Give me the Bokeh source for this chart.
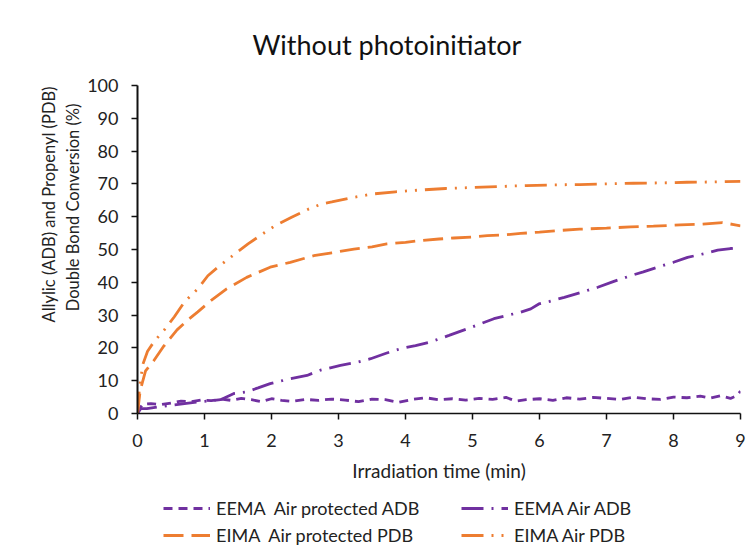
from bokeh.plotting import figure
from bokeh.models import Range1d, Legend, LegendItem, Title
from bokeh.layouts import column
from bokeh.embed import file_html
from bokeh.resources import INLINE

# ---- data ----
title_text = "Without photoinitiator"
x_label = "Irradiation time (min)"
y_label_1 = "Allylic (ADB) and Propenyl (PDB)"
y_label_2 = "Double Bond Conversion (%)"
x_ticks = [0, 1, 2, 3, 4, 5, 6, 7, 8, 9]
y_ticks = [0, 10, 20, 30, 40, 50, 60, 70, 80, 90, 100]

eema_prot_t = [0, 0.03, 0.08, 0.2, 0.35, 0.5, 0.65, 0.8, 0.95, 1.1, 1.25, 1.4, 1.55, 1.7, 1.85,
               2.0, 2.15, 2.3, 2.5, 2.7, 2.9, 3.1, 3.3, 3.5, 3.7, 3.9, 4.1, 4.3, 4.5, 4.7, 4.9,
               5.1, 5.3, 5.5, 5.65, 5.8, 6.0, 6.2, 6.4, 6.6, 6.8, 7.0, 7.2, 7.4, 7.6, 7.8, 8.0,
               8.2, 8.4, 8.55, 8.7, 8.85, 8.95, 9.0]
eema_prot_y = [0, 1.5, 2.8, 3.0, 2.7, 3.2, 3.8, 3.6, 4.1, 3.9, 4.4, 4.0, 4.6, 4.2, 3.6,
               4.5, 4.0, 3.7, 4.3, 4.0, 4.4, 4.1, 3.6, 4.4, 4.2, 3.4, 4.3, 4.8, 4.2, 4.5, 4.1,
               4.6, 4.3, 4.9, 3.8, 4.2, 4.5, 4.0, 4.8, 4.4, 4.9, 4.6, 4.3, 5.0, 4.5, 4.3, 5.0,
               4.8, 5.3, 4.7, 5.4, 4.6, 5.5, 6.8]

eema_air_t = [0, 0.05, 0.14, 0.3, 0.49, 0.7, 0.89, 1.05, 1.24, 1.44, 1.63, 1.8, 1.98, 2.28,
              2.53, 2.73, 3.03, 3.25, 3.48, 3.7, 3.93, 4.15, 4.37, 4.65, 4.92, 5.1, 5.32, 5.5,
              5.72, 5.87, 5.99, 6.15, 6.37, 6.6, 6.87, 7.1, 7.36, 7.55, 7.76, 8.0, 8.21, 8.45,
              8.66, 8.85, 9.0]
eema_air_y = [0, 1.5, 1.5, 2.0, 2.5, 3.0, 3.5, 3.8, 4.2, 6.1, 6.6, 7.8, 9.1, 10.6,
              11.6, 13.2, 14.7, 15.5, 16.7, 18.3, 19.8, 20.7, 21.8, 23.8, 25.8, 27.2, 28.9, 29.8,
              30.9, 31.9, 33.4, 34.2, 35.4, 36.8, 38.5, 40.2, 42.0, 43.2, 44.6, 46.1, 47.6, 48.7,
              49.8, 50.3, 50.6]

eima_prot_t = [0, 0.04, 0.12, 0.24, 0.39, 0.59, 0.75, 0.9, 1.1, 1.33, 1.63, 1.98, 2.28, 2.63,
               2.9, 3.23, 3.5, 3.72, 4.0, 4.22, 4.5, 4.72, 5.0, 5.22, 5.5, 5.72, 6.0, 6.3, 6.6,
               7.0, 7.36, 7.7, 8.1, 8.4, 8.73, 8.9, 9.0]
eima_prot_y = [0, 7.0, 13.0, 16.0, 20.5, 25.5, 28.5, 31.0, 34.5, 38.0, 41.5, 44.6, 46.1, 48.1,
               49.0, 50.1, 50.8, 51.7, 52.2, 52.7, 53.2, 53.5, 53.8, 54.2, 54.5, 54.9, 55.3, 55.8, 56.2,
               56.5, 56.9, 57.1, 57.5, 57.7, 58.2, 57.6, 57.2]

eima_air_t = [0, 0.03, 0.08, 0.15, 0.25, 0.4, 0.55, 0.7, 0.9, 1.05, 1.2, 1.45, 1.65, 1.9, 2.05,
              2.3, 2.55, 2.75, 2.9, 3.2, 3.5, 3.85, 4.2, 4.6, 5.0, 5.4, 5.8, 6.2, 6.6, 7.0, 7.4,
              7.8, 8.2, 8.6, 9.0]
eima_air_y = [0, 8.0, 15.0, 19.0, 22.0, 25.5, 29.5, 34.0, 38.0, 42.0, 44.6, 48.6, 51.7, 55.2, 57.2,
              59.8, 62.3, 63.9, 64.5, 65.8, 66.9, 67.6, 68.1, 68.6, 68.9, 69.2, 69.5, 69.7, 69.8, 70.0, 70.2,
              70.3, 70.5, 70.6, 70.8]

series_names = ["EEMA  Air protected ADB", "EEMA Air ADB", "EIMA  Air protected PDB", "EIMA Air PDB"]

PURPLE = "#7030A0"
ORANGE = "#ED7D31"
FONT = "Lato"
TXT = "#222222"
LW = 2.8
styles = [dict(line_color=PURPLE, line_width=LW, line_dash="9 6"),
          dict(line_color=PURPLE, line_width=LW, line_dash="22 8 2 8"),
          dict(line_color=ORANGE, line_width=LW, line_dash="20 8"),
          dict(line_color=ORANGE, line_width=LW, line_dash="22 8 2 8 2 8")]
series = [(eema_prot_t, eema_prot_y), (eema_air_t, eema_air_y),
          (eima_prot_t, eima_prot_y), (eima_air_t, eima_air_y)]

# ---------- main chart ----------
p = figure(width=753, height=495, output_backend="svg", toolbar_location=None,
           x_range=Range1d(0, 9), y_range=Range1d(0, 100),
           min_border_left=137, min_border_right=13, min_border_top=84, min_border_bottom=82)
p.outline_line_color = None
p.grid.visible = False
p.background_fill_color = "white"
p.border_fill_color = "white"

p.title.text = title_text
p.title.text_font = FONT
p.title.text_font_size = "27px"
p.title.text_font_style = "normal"
p.title.text_color = "#111111"
p.title.align = "left"
p.title.offset = 115
p.title.standoff = 50

for ax in (p.xaxis[0], p.yaxis[0]):
    ax.axis_line_color = "#111111"
    ax.axis_line_width = 1.5
    ax.major_tick_line_color = "#111111"
    ax.major_tick_line_width = 1.5
    ax.major_tick_in = 0
    ax.major_tick_out = 6
    ax.minor_tick_line_color = None
    ax.major_label_text_font = FONT
    ax.major_label_text_font_size = "18px"
    ax.major_label_text_color = TXT

p.xaxis[0].ticker = x_ticks
p.yaxis[0].ticker = y_ticks
p.xaxis[0].major_label_standoff = 14
p.yaxis[0].major_label_standoff = 13
p.yaxis[0].axis_line_width = 2

p.xaxis[0].axis_label = x_label
p.xaxis[0].axis_label_text_font = FONT
p.xaxis[0].axis_label_text_font_size = "19px"
p.xaxis[0].axis_label_text_font_style = "normal"
p.xaxis[0].axis_label_text_color = TXT
p.xaxis[0].axis_label_standoff = 9

# two-line y-axis title, stacked in the left panel (Excel centres it on the chart area)
for txt, off, so in ((y_label_2, 18, 4), (y_label_1, 1, 0)):
    p.add_layout(Title(text=txt, align="right", offset=off, standoff=so,
                       text_font=FONT, text_font_size="16.5px", text_font_style="normal",
                       text_color=TXT), "left")

renderers = [p.line(t, y, **st) for (t, y), st in zip(series, styles)]

# ---------- legend strip below the chart (its frame is aligned with the chart frame) ----------
q = figure(width=753, height=55, output_backend="svg", toolbar_location=None,
           x_range=Range1d(-20, -10), y_range=Range1d(-20, -10),
           x_axis_location=None, y_axis_location=None,
           min_border_left=0, min_border_right=0, min_border_top=0, min_border_bottom=0)
q.outline_line_color = None
q.grid.visible = False
q.border_fill_color = "white"
leg_renderers = [q.line(t, y, **st) for (t, y), st in zip(series, styles)]

legend = Legend(items=[LegendItem(label=n, renderers=[r]) for n, r in zip(series_names, leg_renderers)],
                location=(26, 4), orientation="horizontal", ncols=2,
                border_line_color=None, background_fill_alpha=0,
                label_text_font=FONT, label_text_font_size="18px", label_text_color=TXT,
                glyph_width=47, glyph_height=20, label_standoff=6, spacing=5,
                label_width=240, padding=2, margin=0)
q.add_layout(legend, "center")

layout = column(p, q, spacing=0)
open("out.html", "w").write(file_html(layout, INLINE))
